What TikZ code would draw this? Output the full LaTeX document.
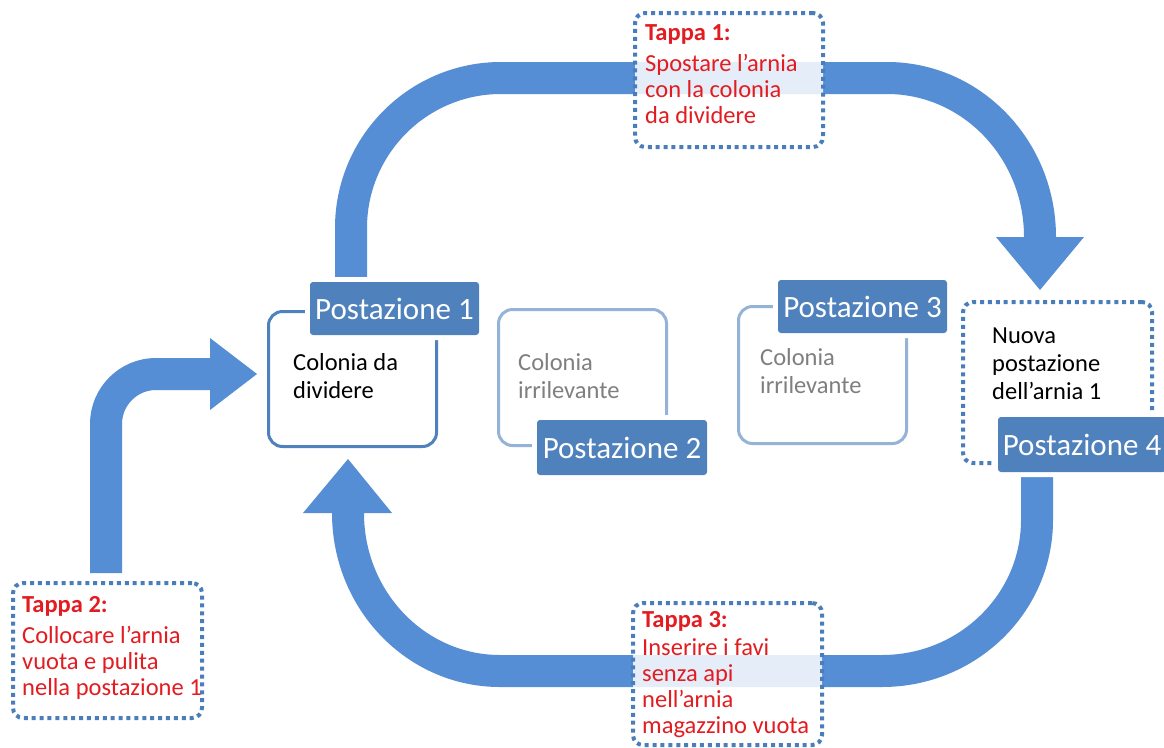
\documentclass[tikz,border=0pt]{standalone}
\usepackage{fontspec}
\setmainfont{Carlito}
\definecolor{arrowblue}{RGB}{85,142,213}
\definecolor{labelblue}{RGB}{79,129,189}
\definecolor{lightoutline}{RGB}{149,179,215}
\definecolor{dotblue}{RGB}{74,126,187}
\definecolor{stepred}{RGB}{226,28,32}
\definecolor{graytext}{RGB}{127,127,127}
\begin{document}
\begin{tikzpicture}[x=1pt,y=-1pt,
  bigarrow/.style={draw=arrowblue, line width=32pt},
  arrowtip/.style={fill=arrowblue},
  poslabel/.style={fill=labelblue, text=white, rounded corners=3pt, inner sep=0pt,
    font=\fontsize{31}{37}\selectfont, preaction={draw=white, line width=10pt}},
  darkframe/.style={draw=labelblue, line width=3pt, rounded corners=14pt, inner sep=0pt},
  lightframe/.style={draw=lightoutline, line width=3pt, rounded corners=14pt, inner sep=0pt},
  dotframe/.style={draw=dotblue, line width=4pt, dash pattern=on 4pt off 3.9pt,
    rounded corners=10pt, fill=white, fill opacity=0.85, inner sep=0pt},
  steptext/.style={anchor=north west, inner sep=0pt, align=left, text=stepred,
    font=\fontsize{24.5}{26}\selectfont},
  bodytext/.style={anchor=north west, inner sep=0pt, align=left,
    font=\fontsize{24.5}{28}\selectfont}
]
\path[fill=white] (0,0) rectangle (1164,747);
\useasboundingbox (0,0) rectangle (1164,747);

% big arrows
\coordinate (topstart) at (351,277);
\coordinate (topend) at (1040,237);
\draw[bigarrow] (topstart) -- (351,228) .. controls (351,145.2) and (418.2,78) .. (501,78)
  -- (887,78) .. controls (971.5,78) and (1040,149.2) .. (topend);
\fill[arrowtip] (996,237) -- (1084,237) -- (1040,290) -- cycle;

\coordinate (botstart) at (1037,477);
\coordinate (botend) at (348,513);
\draw[bigarrow] (botstart) -- (1037,520) .. controls (1037,603.4) and (967.6,671) .. (882,671)
  -- (500,671) .. controls (416,671) and (348,600.3) .. (botend);
\fill[arrowtip] (303,513) -- (392,513) -- (348,459) -- cycle;

\coordinate (leftstart) at (106,573);
\coordinate (leftend) at (211,374);
\draw[bigarrow] (leftstart) -- (106,424) .. controls (106,396.4) and (128.4,374) .. (156,374) -- (leftend);
\fill[arrowtip] (210,338) -- (210,410) -- (257,374) -- cycle;

% step boxes
\node[dotframe, minimum width=188pt, minimum height=134pt] (t1box) at (729,80) {};
\node[steptext] (t1text) at (645,21.8) {\strut\textbf{Tappa 1:}\\[5pt]Spostare l’arnia\\con la colonia\\da dividere};

\node[dotframe, minimum width=189pt, minimum height=135pt] (t2box) at (107.5,650.5) {};
\node[steptext] (t2text) at (22,593.8) {\strut\textbf{Tappa 2:}\\[5pt]Collocare l’arnia\\vuota e pulita\\nella postazione 1};

\node[dotframe, minimum width=189pt, minimum height=142pt] (t3box) at (727.5,674) {};
\node[steptext] (t3text) at (642,608.8) {\strut\textbf{Tappa 3:}\\[2pt]Inserire i favi\\senza api\\nell’arnia\\magazzino vuota};

% postazioni frames
\node[darkframe, minimum width=168pt, minimum height=135pt] (p1box) at (352.5,379) {};
\node[bodytext] (p1text) at (293,350.4) {\strut Colonia da\\dividere};

\node[lightframe, minimum width=168pt, minimum height=136pt] (p2box) at (582.5,377.5) {};
\node[bodytext, text=graytext] (p2text) at (518,350.4) {\strut Colonia\\irrilevante};

\node[lightframe, minimum width=168pt, minimum height=137pt] (p3box) at (822.5,375) {};
\node[bodytext, text=graytext] (p3text) at (760,345.4) {\strut Colonia\\irrilevante};

\node[dotframe, minimum width=189pt, minimum height=161pt] (p4box) at (1057.5,382.5) {};
\node[bodytext] (p4text) at (992,323.4) {\strut Nuova\\postazione\\dell’arnia 1};

% labels
\node[poslabel, minimum width=169pt, minimum height=53pt] (p1lab) at (394.5,308.5) {Postazione 1};
\node[poslabel, minimum width=170pt, minimum height=55pt] (p2lab) at (622,447.5) {Postazione 2};
\node[poslabel, minimum width=169pt, minimum height=53pt] (p3lab) at (862.5,306.5) {Postazione 3};
\node[poslabel, minimum width=168pt, minimum height=55pt] (p4lab) at (1082,444.5) {Postazione 4};
\end{tikzpicture}
\end{document}
